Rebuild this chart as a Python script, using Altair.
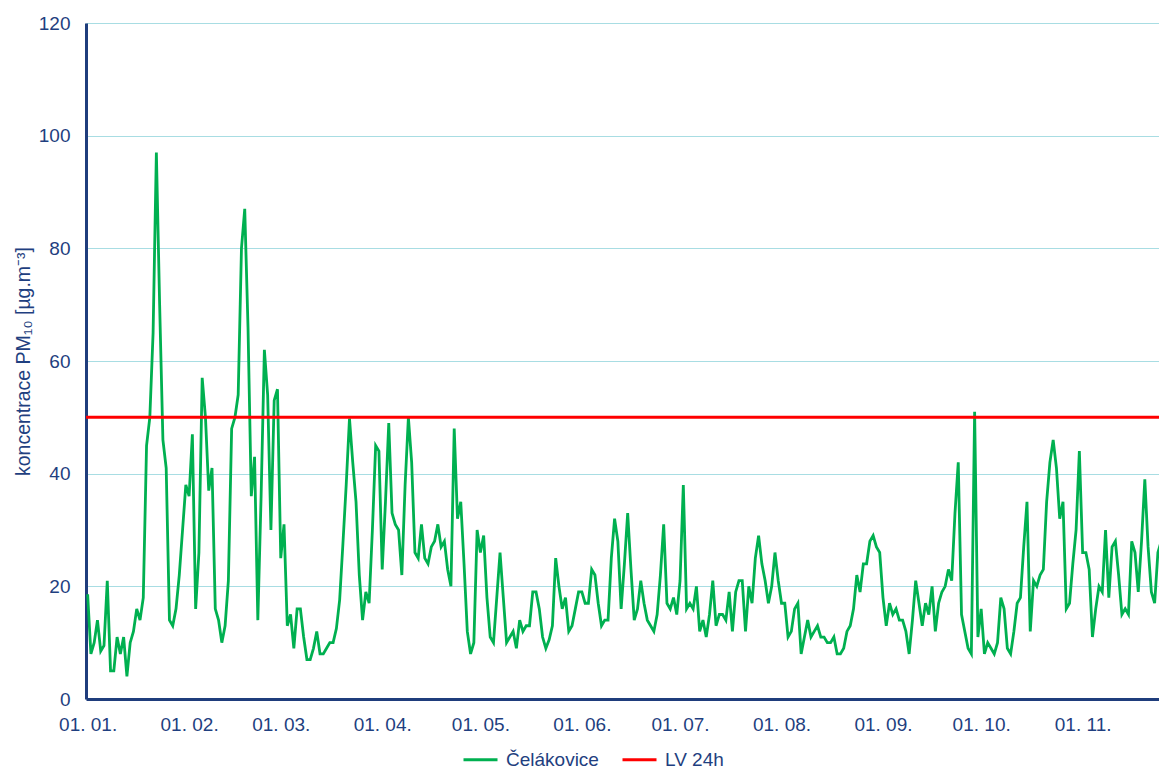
import altair as alt
import pandas as pd

# Daily PM10 concentration, Čelákovice (µg/m3), from 1 January
celakovice = [
    18.6, 8, 10, 14, 8.5, 9.5, 21, 5, 5, 11, 8, 11, 4, 10, 12, 16, 14, 18, 45, 50,
    65, 97, 70, 46, 41, 14, 13, 16, 22, 30, 38, 36, 47, 16, 26, 57, 50, 37, 41, 16,
    14, 10, 13, 21, 48, 50, 54, 80, 87, 66, 36, 43, 14, 36, 62, 54, 30, 53, 55, 25,
    31, 13, 15, 9, 16, 16, 11, 7, 7, 9, 12, 8, 8, 9, 10, 10, 12.5, 17.6, 27.6, 38,
    49.8, 42, 35, 22, 14, 19, 17, 30, 45, 44, 23, 35, 49, 33, 31, 30, 22, 38, 50, 42,
    26, 25, 31, 25, 24, 27, 28, 31, 27, 28, 23, 20, 48, 32, 35, 24, 12, 8, 10, 30,
    26, 29, 18, 11, 10, 18, 26, 18, 10, 11, 12, 9, 14, 12, 13, 13, 19, 19, 16, 11,
    9, 10.5, 13, 25, 20, 16, 18, 12, 13, 16, 19, 19, 17, 17, 23, 22, 17, 13, 14, 14,
    25, 32, 28, 16, 24, 33, 23, 14, 16, 21, 17, 14, 13, 12, 15, 22, 31, 17, 16, 18,
    15, 21, 38, 16, 17, 16, 20, 12, 14, 11, 15, 21, 13, 15, 15, 14, 19, 12, 19, 21,
    21, 12, 20, 17, 25, 29, 24, 21, 17, 20, 26, 21, 17, 17, 11, 12, 16, 17, 8, 11,
    14, 11, 12, 13, 11, 11, 10, 10, 11, 8, 8, 9, 12, 13, 16, 22, 19, 24, 24, 28,
    29, 27, 26, 18, 13, 17, 15, 16, 14, 14, 12, 8, 14, 21, 17, 13, 17, 15, 20, 12,
    17, 19, 20, 23, 21, 33, 42, 15, 12, 9, 8, 51, 11, 16, 8, 10, 9, 8, 10, 18,
    16, 9, 8, 12, 17, 18, 27, 35, 12, 21, 20, 22, 23, 35, 42, 46, 41, 32, 35, 16,
    17, 24, 30, 44, 26, 26, 23, 11, 16, 20, 19, 30, 18, 27, 28, 22, 15, 16, 15, 28,
    26, 19, 28, 39, 27, 19, 17, 26, 28, 20, 25, 15,
]
LV_24H = 50
series_names = ["Čelákovice", "LV 24h"]
series_colors = ["#00b050", "#ff0000"]
tick_months = [1, 2, 3, 4, 5, 6, 7, 8, 9, 10, 11]
y_ticks = [0, 20, 40, 60, 80, 100, 120]
y_title = "koncentrace PM₁₀ [µg.m⁻³]"

NAVY = "#1f3d7c"
TEXT = "#1f3f80"
GRID = "#a8dde3"
FONT = "Liberation Sans"

dates = pd.date_range("2023-01-01 12:00", periods=len(celakovice), freq="D")
df = pd.DataFrame({"datum": dates, "hodnota": celakovice,
                   "rada": [series_names[0]] * len(celakovice)})
lv_df = pd.DataFrame({"limit": [LV_24H], "rada": [series_names[1]]})

x_scale = alt.Scale(
    domain=[alt.DateTime(year=2023, month=1, date=1),
            alt.DateTime(year=2023, month=11, date=24, hours=20)],
    nice=False,
)
y_scale = alt.Scale(domain=[0, 120], nice=False)
color_scale = alt.Scale(domain=series_names, range=series_colors)

x_axis = alt.Axis(
    values=[alt.DateTime(year=2023, month=m, date=1, hours=12) for m in tick_months],
    format="%d. %m.", title=None, grid=False, ticks=False, tickSize=0,
    domainColor=NAVY, domainWidth=3, labelColor=TEXT, labelFontSize=19,
    labelFont=FONT, labelPadding=16, labelFlush=False, labelOverlap=False,
)
y_axis = alt.Axis(
    values=y_ticks, title=y_title, grid=True, gridColor=GRID, gridWidth=1,
    ticks=False, tickSize=0, domainColor=NAVY, domainWidth=3,
    labelColor=TEXT, labelFontSize=19, labelFont=FONT, labelPadding=16,
    titleColor=TEXT, titleFontSize=19.5, titleFont=FONT, titleFontWeight="normal",
    titlePadding=5,
)

legend = alt.Legend(
    title=None, orient="none", legendX=376, legendY=718, direction="horizontal",
    symbolType="stroke", symbolSize=1156, symbolStrokeWidth=3,
    labelColor=TEXT, labelFontSize=19, labelFont=FONT, labelOffset=7,
    columnPadding=17, padding=0,
)

line = alt.Chart(df).mark_line(strokeWidth=2.8, clip=True).encode(
    x=alt.X("datum:T", scale=x_scale, axis=x_axis),
    y=alt.Y("hodnota:Q", scale=y_scale, axis=y_axis),
    color=alt.Color("rada:N", scale=color_scale, legend=legend),
)

rule = alt.Chart(lv_df).mark_rule(strokeWidth=3).encode(
    y=alt.Y("limit:Q", scale=y_scale),
    color=alt.Color("rada:N", scale=color_scale, legend=legend),
)

chart = alt.layer(line, rule).properties(
    width=1073, height=676,
    autosize=alt.AutoSizeParams(type="none"),
    padding={"left": 78, "top": 15, "right": 0, "bottom": 71},
).configure_view(stroke=None).configure(background="white")

chart.save("out.html", embed_options={"renderer": "svg", "actions": False})
